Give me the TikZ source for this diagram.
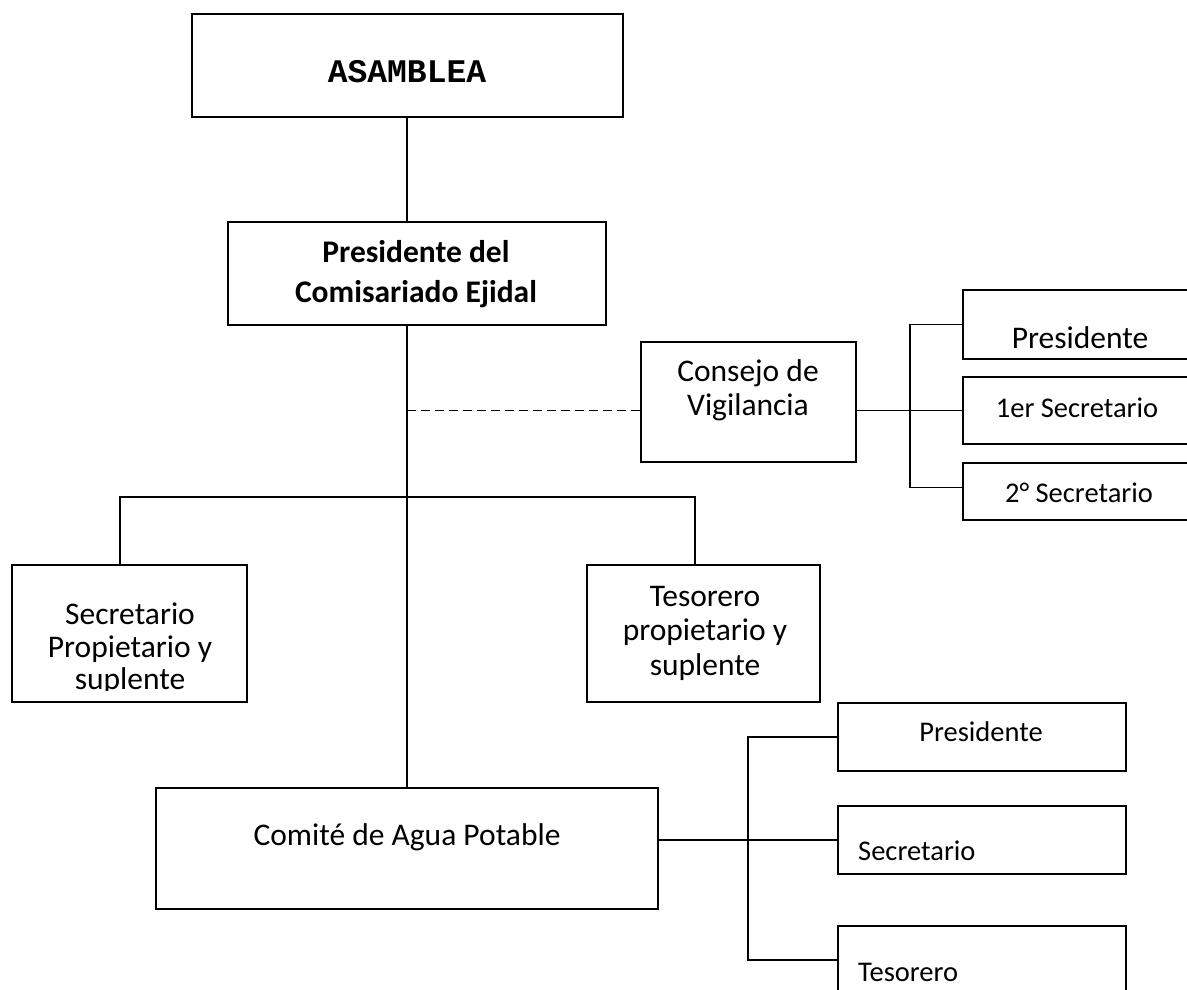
\documentclass[tikz,border=0pt]{standalone}
\usepackage{fontspec}
\setmainfont{Carlito}
\newfontfamily\monofam{Liberation Mono}
\begin{document}
\begin{tikzpicture}[x=1pt,y=-1pt,
  box/.style={draw, line width=2.2pt, rectangle, inner sep=0pt, outer sep=0pt},
  txt/.style={inner sep=0pt, align=center, font=\fontsize{31.5}{34}\selectfont},
  stxt/.style={inner sep=0pt, align=center, font=\fontsize{28.5}{32}\selectfont},
  conn/.style={line width=1.7pt}]
\useasboundingbox (0,0) rectangle (1187,990);
% boxes
\node[box, minimum width=431pt, minimum height=103pt] (asam) at (407.5,65.5) {};
\node[box, minimum width=378pt, minimum height=103pt] (pres) at (417,273.5) {};
\node[box, minimum width=215pt, minimum height=120pt] (cons) at (748.5,402) {};
\node[box, minimum width=232pt, minimum height=69pt] (vp) at (1079,324.5) {};
\node[box, minimum width=232pt, minimum height=67pt] (vs1) at (1079,410.5) {};
\node[box, minimum width=232pt, minimum height=57pt] (vs2) at (1079,491.5) {};
\node[box, minimum width=235pt, minimum height=137pt] (sec) at (129.5,633.5) {};
\node[box, minimum width=233pt, minimum height=137pt] (tes) at (703.5,633.5) {};
\node[box, minimum width=502pt, minimum height=121pt] (com) at (407,848.5) {};
\node[box, minimum width=288pt, minimum height=68pt] (cp) at (982,737) {};
\node[box, minimum width=288pt, minimum height=68pt] (cs) at (982,840) {};
\node[box, minimum width=288pt, minimum height=68pt] (ct) at (982,960) {};
% texts
\node[inner sep=0pt, font=\monofam\bfseries\fontsize{33}{36}\selectfont] (asamT) at (407,72) {ASAMBLEA};
\node[txt, font=\bfseries\fontsize{31.5}{40}\selectfont] (presT) at (416,274) {Presidente del\\Comisariado Ejidal};
\node[txt] (consT) at (748,390) {Consejo de\\Vigilancia};
\node[txt] (vpT) at (1080,338) {Presidente};
\node[stxt] (vs1T) at (1077,408) {1er Secretario};
\node[stxt] (vs2T) at (1079,493) {2° Secretario};
\begin{scope}
\clip (12,565) rectangle (247,690);
\node[txt, font=\fontsize{31.5}{32.5}\selectfont] (secT) at (130,649) {Secretario\\Propietario y\\suplente};
\end{scope}
\node[txt, font=\fontsize{31.5}{34.5}\selectfont] (tesT) at (705,633) {Tesorero\\propietario y\\suplente};
\node[txt] (comT) at (407,837) {Comité de Agua Potable};
\node[stxt] (cpT) at (981,732) {Presidente};
\node[stxt, anchor=west] (csT) at (858,851) {Secretario};
\node[stxt, anchor=west] (ctT) at (858,972) {Tesorero};
% connectors
\coordinate (sp) at (407,0);
\draw[conn] (asam.south -| sp) -- (pres.north -| sp);
\draw[conn] (pres.south -| sp) -- (com.north -| sp);
\draw[conn, dashed, dash pattern=on 9pt off 5pt] (sp |- vs1.west) -- (cons.west |- vs1.west);
\draw[conn] (cons.east |- vs1.west) -- (vs1.west);
\draw[conn] (vp.west) -- ++(-53,0) |- ([yshift=4pt]vs2.west);
\draw[conn] ([xshift=-9.5pt]sec.north) -- ++(0,-68) -| ([xshift=-8.5pt]tes.north);
\draw[conn] (com.east |- cs.west) -- (cs.west);
\draw[conn] (cp.west) -- ++(-90,0) |- (ct.west);
\end{tikzpicture}
\end{document}
